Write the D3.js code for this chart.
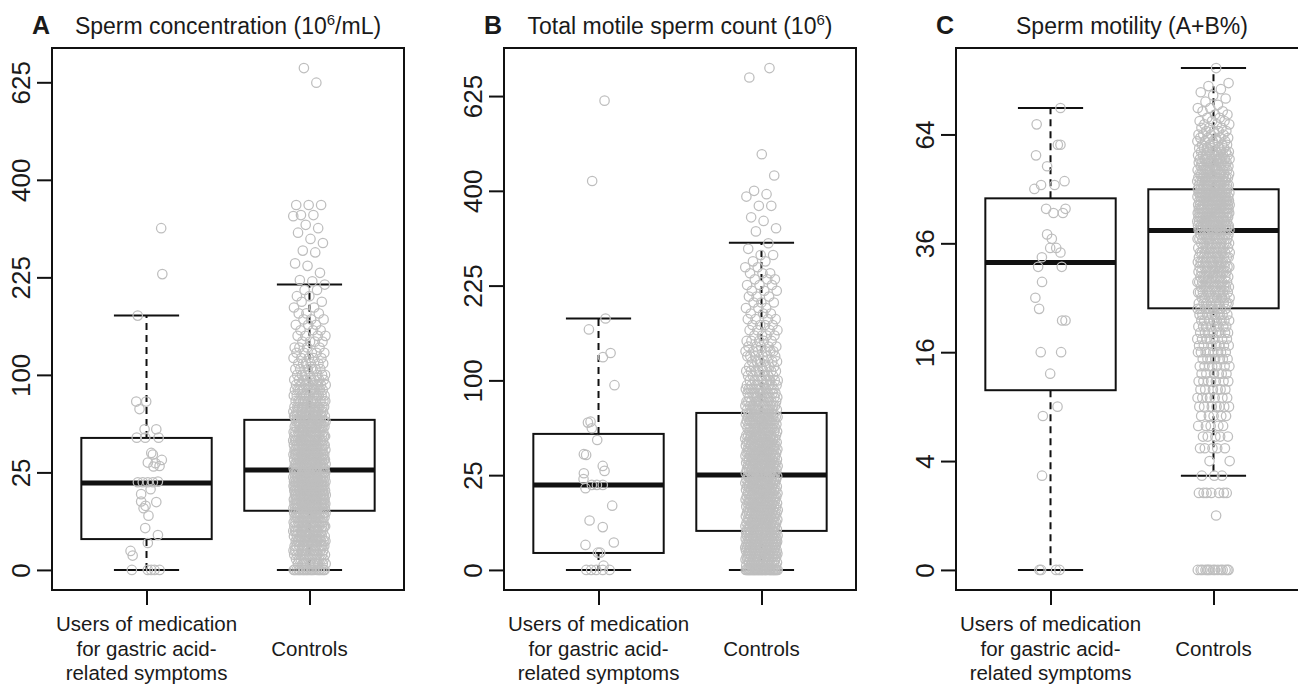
<!DOCTYPE html>
<html>
<head>
<meta charset="utf-8">
<script src="https://cdn.jsdelivr.net/npm/d3@7"></script>
<style>
body { margin: 0; background: #fff; }
svg text { font-family: "Liberation Sans", Arial, Helvetica, sans-serif; fill: #1a1a1a; }
</style>
</head>
<body>
<div id="chart"></div>
<script>
const letters = ["A", "B", "C"];
const titles = [
    ["Sperm concentration (10", "6", "/mL)"],
    ["Total motile sperm count (10", "6", ")"],
    ["Sperm motility (A+B%)"]
];
const groupLabels = [
    ["Users of medication", "for gastric acid-", "related symptoms"],
    ["Controls"]
];
const countTicks = [0, 25, 100, 225, 400, 625];
const motilityTicks = [0, 4, 16, 36, 64];

// lower whisker, Q1, median, Q3, upper whisker  (users, controls)
const boxA = [[0, 2.5, 19.9, 45.8, 170], [0, 9.2, 26.3, 59.2, 214]];
const boxB = [[0, 0.8, 20.1, 51.5, 176], [0, 4.24, 25.1, 68.6, 298]];
const boxC = [[0, 10.9, 31.9, 46.6, 72], [3, 23.1, 38.9, 48.9, 85]];

// users: [value, jitter]
const usersA = [
    [307, 0.09], [230, 0.097], [170, -0.054], [74.5, -0.063], [74.5, -0.002], [68, -0.043],
    [52, -0.012], [52, 0.06], [46, -0.06], [46, -0.008], [46, 0.074], [36, 0.029], [35, 0.039],
    [31.8, 0.094], [30.3, 0.008], [29.9, 0.055], [28.4, 0.08], [28.1, 0.043],
    [20.2, -0.053], [20.2, -0.023], [20.2, 0.008], [20.2, 0.039], [20.5, 0.07],
    [17.1, 0.025], [15.1, -0.033], [12.1, 0.06], [12.3, -0.033], [10.8, -0.006], [10, -0.018],
    [7.75, 0.012], [4.6, -0.008], [3.2, 0.07], [1.9, 0.008], [0.95, -0.098], [0.54, -0.085],
    [0, -0.09], [0, 0.008], [0, 0.029], [0, 0.049], [0, 0.08]
];
const usersB = [
    [613, 0.037], [421, -0.039], [176, 0.043], [161, -0.059], [131, 0.074], [126, 0.027],
    [95, 0.098], [60.4, -0.065], [61.2, -0.049], [55.9, -0.041], [47, -0.008], [37.3, -0.09],
    [36.8, -0.076], [30.1, 0.026], [27.3, 0.037], [26, -0.09], [23, -0.092], [18.6, -0.08],
    [20.1, -0.041], [20.1, 0.026], [20.1, -0.01], [11.5, 0.084], [6.8, -0.055], [5.1, 0.026],
    [2.1, 0.094], [1.74, -0.08], [0.83, -0.004], [0.83, 0.01], [0.05, 0.031],
    [0, -0.075], [0, -0.045], [0, -0.014], [0, 0.026], [0, 0.068]
];
const usersC = [
    [72, 0.061], [67, -0.085], [61, 0.045], [61, 0.061], [58, -0.089], [55, -0.021],
    [49, -0.099], [50, -0.058], [50, 0.025], [51, 0.086], [44, -0.027], [43, 0.018],
    [43, 0.076], [44, 0.092], [38, -0.021], [37, 0.008], [35, -0.002], [35, 0.035],
    [34, 0.061], [33, -0.053], [31, -0.076], [31, 0.069], [28, -0.052], [25, -0.093],
    [23, -0.07], [21, 0.071], [21, 0.092], [16, -0.06], [16, 0.065], [13, -0.002],
    [9, 0.043], [8, -0.047], [3, -0.052], [0, -0.068], [0, -0.058], [0, 0.034], [0, 0.055]
];

// controls: [value, number of men]
const controlsA = [
    [0, 20], [0.1, 9], [0.3, 10], [0.6, 12], [1, 13], [1.5, 14], [2.2, 15], [3, 15], [4, 15],
    [5, 15], [6, 16], [7.3, 16], [8.6, 15], [10, 21], [11.5, 21], [13, 21], [14.8, 21],
    [16.6, 21], [18.5, 21], [20.5, 21], [22.6, 21], [25, 20], [27, 19], [29.5, 19], [32, 18],
    [35, 18], [38, 18], [41, 17], [44, 17], [47, 16], [50, 15], [54, 15], [58, 15], [62, 15],
    [66, 14], [70, 13], [75, 12], [80, 11], [85, 10], [90, 9], [95, 8], [100, 7], [106, 6],
    [112, 6], [118, 5], [124, 5], [130, 4], [137, 4], [144, 4], [151, 3], [158, 3], [165, 3],
    [173, 3], [181, 2], [189, 2], [197, 2], [206, 2], [214, 1], [219, 1], [221, 1], [232, 1],
    [243, 1], [247, 1], [265, 1], [268, 1], [281, 1], [288, 1], [299, 1], [307, 1], [313, 1],
    [329, 1], [331, 2], [350, 3], [624, 1], [662, 1]
];
const controlsB = [
    [0, 33], [0.05, 9], [0.15, 10], [0.3, 12], [0.5, 13], [0.75, 14], [1.05, 14], [1.4, 14],
    [1.8, 14], [2.25, 14], [2.75, 14], [3.3, 14], [3.9, 14], [4.6, 11], [5.3, 11], [6.2, 11],
    [7.1, 11], [8, 11], [9, 12], [10, 11], [11.2, 11], [12.4, 11], [13.7, 11], [15, 11],
    [16.4, 11], [17.9, 11], [19.4, 11], [21, 11], [22.7, 11], [24.4, 11], [26.2, 11], [28.1, 11],
    [30, 11], [32, 11], [34, 11], [36.2, 11], [38.4, 11], [40.6, 11], [43, 11], [45.4, 11],
    [48, 10], [50.5, 10], [53.3, 10], [56, 10], [59, 10], [62, 10], [65, 10], [68, 10],
    [71.5, 10], [75, 9], [79, 10], [83, 9], [87, 8], [91, 9], [95, 8], [100, 8], [105, 6],
    [110, 7], [115, 6], [121, 6], [127, 6], [133, 6], [139, 5], [146, 5], [153, 4], [160, 4],
    [167, 4], [175, 4], [183, 3], [191, 3], [199, 3], [208, 3], [217, 3], [226, 3], [235, 3],
    [245, 3], [255, 2], [265, 2], [276, 2], [287, 1], [297, 1], [319, 1], [325, 1], [339, 1],
    [346, 1], [369, 2], [388, 1], [393, 1], [400, 1], [433, 1], [481, 1], [675, 1], [701, 1]
];
const controlsC = [
    [0, 15], [1, 1], [2, 7], [3, 3], [4, 2], [5, 5], [6, 5], [7, 5], [8, 5], [9, 7],
    [10, 7], [11, 6], [12, 7], [13, 6], [14, 7], [15, 7], [16, 8], [17, 7], [18, 7], [19, 8],
    [20, 8], [21, 8], [22, 8], [23, 9], [24, 9], [25, 9], [26, 10], [27, 10], [28, 10],
    [29, 10], [30, 10], [31, 10], [32, 10], [33, 10], [34, 10], [35, 10], [36, 10], [37, 10],
    [38, 10], [39, 16], [40, 16], [41, 16], [42, 16], [43, 16], [44, 16], [45, 16], [46, 16],
    [47, 16], [48, 16], [49, 12], [50, 12], [51, 11], [52, 10], [53, 10], [54, 9], [55, 9],
    [56, 9], [57, 8], [58, 8], [59, 7], [60, 6], [61, 5], [62, 5], [63, 5], [64, 4], [65, 4],
    [66, 3], [67, 3], [68, 3], [69, 2], [70, 2], [71, 2], [72, 2], [73, 1], [74, 1], [75, 1],
    [76, 1], [77, 1], [78, 1], [79, 1], [80, 1], [85, 1]
];

const panels = [
    {box: boxA, users: usersA, controls: controlsA, ticks: countTicks},
    {box: boxB, users: usersB, controls: controlsB, ticks: countTicks},
    {box: boxC, users: usersC, controls: controlsC, ticks: motilityTicks}
];

const width = 1298,
    height = 684,
    plotW = 352,
    plotTop = 48,
    plotH = 542,
    step = 452,
    ink = "#111",
    pointCol = "#bebebe",

    svg = d3.select("#chart").append("svg").
        attr("width", width).
        attr("height", height).
        attr("viewBox", `0 0 ${width} ${height}`);

// stripchart-like spread for the controls cloud
const spread = (i) => ((i * 0.6180339887 + 0.31) % 1) * 0.2 - 0.1;

panels.forEach((p, k) => {

    const left = 52 + k * step,
        bottom = plotTop + plotH,
        g = svg.append("g"),

        maxV = d3.max([
            d3.max(p.users, (d) => d[0]),
            d3.max(p.controls, (d) => d[0])
        ]),
        s = Math.sqrt(maxV),
        pad = 0.04 * s,

        x = d3.scaleLinear().
            domain([0.42, 2.58]).
            range([left, left + plotW]),
        y = d3.scaleSqrt().
            domain([-pad * pad, (s + pad) * (s + pad)]).
            range([bottom, plotTop]),
        unit = x(1) - x(0);

    // boxes
    p.box.forEach((b, gi) => {

        const cx = x(gi + 1),
            bw = 0.4 * unit,
            cw = 0.2 * unit;

        g.append("line").
            attr("x1", cx).attr("x2", cx).
            attr("y1", y(b[3])).attr("y2", y(b[4])).
            attr("stroke", ink).attr("stroke-width", 2).
            attr("stroke-dasharray", "7,5");
        g.append("line").
            attr("x1", cx).attr("x2", cx).
            attr("y1", y(b[1])).attr("y2", y(b[0])).
            attr("stroke", ink).attr("stroke-width", 2).
            attr("stroke-dasharray", "7,5");

        [b[0], b[4]].forEach((v) => {
            g.append("line").
                attr("x1", cx - cw).attr("x2", cx + cw).
                attr("y1", y(v)).attr("y2", y(v)).
                attr("stroke", ink).attr("stroke-width", 2);
        });

        g.append("rect").
            attr("x", cx - bw).
            attr("width", 2 * bw).
            attr("y", y(b[3])).
            attr("height", y(b[1]) - y(b[3])).
            attr("fill", "none").
            attr("stroke", ink).
            attr("stroke-width", 2);

        g.append("line").
            attr("x1", cx - bw).attr("x2", cx + bw).
            attr("y1", y(b[2])).attr("y2", y(b[2])).
            attr("stroke", ink).attr("stroke-width", 5);

    });

    // points
    const ctrl = [];
    p.controls.forEach((d) => {
        for (let n = 0; n < d[1]; n++) {
            ctrl.push(d[0]);
        }
    });

    g.append("g").
        selectAll("circle").
        data(p.users).
        enter().
        append("circle").
        attr("cx", (d) => x(1 + d[1])).
        attr("cy", (d) => y(d[0])).
        attr("r", 4.7).
        attr("fill", "none").
        attr("stroke", pointCol).
        attr("stroke-width", 1.25);

    g.append("g").
        selectAll("circle").
        data(ctrl).
        enter().
        append("circle").
        attr("cx", (d, i) => x(2 + spread(i))).
        attr("cy", (d) => y(d)).
        attr("r", 4.7).
        attr("fill", "none").
        attr("stroke", pointCol).
        attr("stroke-width", 1.25);

    // frame
    g.append("rect").
        attr("x", left).
        attr("y", plotTop).
        attr("width", plotW).
        attr("height", plotH).
        attr("fill", "none").
        attr("stroke", ink).
        attr("stroke-width", 2);

    // y axis, labels turned like R's las = 0
    const ya = g.append("g").
        attr("transform", `translate(${left},0)`).
        call(d3.axisLeft(y).
            tickValues(p.ticks).
            tickFormat(d3.format("d")).
            tickSize(15).
            tickSizeOuter(0));
    ya.select(".domain").remove();
    ya.selectAll(".tick line").
        attr("stroke", ink).
        attr("stroke-width", 2);
    ya.selectAll(".tick text").
        attr("transform", "rotate(-90)").
        attr("x", 0).
        attr("y", -22).
        attr("dy", null).
        attr("text-anchor", "middle").
        style("font-size", "26px").
        style("fill", "#1a1a1a");

    // x axis
    const xa = g.append("g").
        attr("transform", `translate(0,${bottom})`).
        call(d3.axisBottom(x).
            tickValues([1, 2]).
            tickFormat("").
            tickSize(15).
            tickSizeOuter(0));
    xa.select(".domain").remove();
    xa.selectAll(".tick line").
        attr("stroke", ink).
        attr("stroke-width", 2);

    groupLabels.forEach((lines, gi) => {
        lines.forEach((t, li) => {
            g.append("text").
                attr("x", x(gi + 1)).
                attr("y", 655.5 + (li - (lines.length - 1) / 2) * 24.5).
                attr("text-anchor", "middle").
                style("font-size", "20.5px").
                text(t);
        });
    });

    // titles
    g.append("text").
        attr("x", left - 20).
        attr("y", 34).
        style("font-size", "25px").
        style("font-weight", "bold").
        text(letters[k]);

    const tt = g.append("text").
        attr("x", left + plotW / 2).
        attr("y", 34).
        attr("text-anchor", "middle").
        style("font-size", "23px");
    tt.append("tspan").text(titles[k][0]);
    if (titles[k].length > 1) {
        tt.append("tspan").
            attr("dy", -9).
            style("font-size", "15px").
            text(titles[k][1]);
        tt.append("tspan").
            attr("dy", 9).
            text(titles[k][2]);
    }

});
</script>
</body>
</html>
